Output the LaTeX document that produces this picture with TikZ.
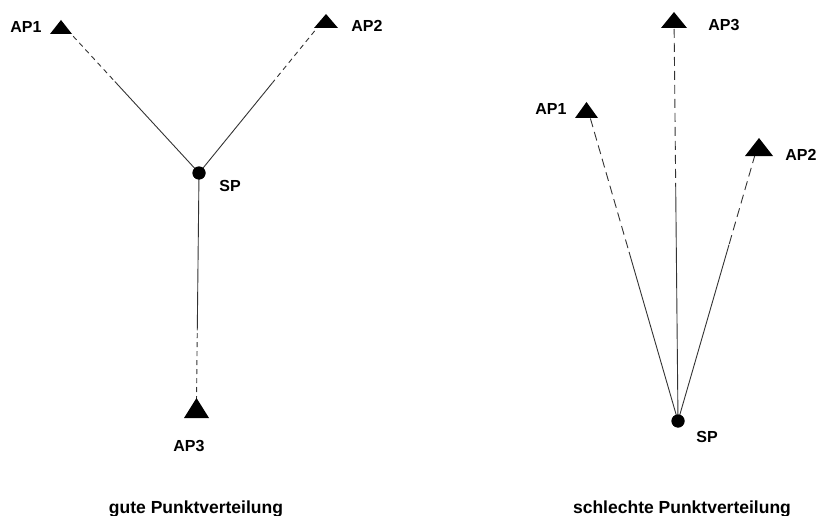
\documentclass[tikz,border=0pt]{standalone}
\usepackage{fontspec}
\setmainfont{Liberation Sans}
\usetikzlibrary{calc}
\begin{document}
\begin{tikzpicture}[x=1pt,y=-1pt,
  lbl/.style={font=\fontsize{16}{18}\selectfont\bfseries, inner sep=0pt},
  captiontext/.style={font=\fontsize{17.5}{19}\selectfont\bfseries, inner sep=0pt, anchor=base},
  solidline/.style={line width=0.9pt, draw=black!80},
  dashline/.style={line width=0.9pt, draw=black!80, dash pattern=on 5pt off 4pt},
  longdash/.style={line width=0.9pt, draw=black!80, dash pattern=on 9pt off 5pt},
  spdot/.style={circle, fill=black, inner sep=0pt, minimum size=13pt},
  tri/.style={fill=black}]
\useasboundingbox (0,0) rectangle (827,516);
% ---------- left: gute Punktverteilung ----------
\node[spdot] (spL) at (199,173) {};
\coordinate (ap1L) at (61,23);
\coordinate (ap2L) at (326,17);
\coordinate (ap3L) at (196.5,401);
\coordinate (m1L) at ($(ap1L)!0.39!(spL)$);
\coordinate (m2L) at ($(ap2L)!0.42!(spL)$);
\coordinate (m3L) at ($(ap3L)!0.31!(spL)$);
\draw[dashline] (ap1L) -- (m1L);
\draw[solidline] (m1L) -- (spL.center);
\draw[dashline] (ap2L) -- (m2L);
\draw[solidline] (m2L) -- (spL.center);
\draw[dashline] (ap3L) -- (m3L);
\draw[solidline] (m3L) -- (spL.center);
\fill[tri] (50,34) -- (61,20) -- (72,34) -- cycle;
\fill[tri] (314,28) -- (326,14) -- (338,28) -- cycle;
\fill[tri] (184,418) -- (196.5,398) -- (209,418) -- cycle;
\node[spdot] at (spL) {};
\node[lbl] (t1L) at (26,27) {AP1};
\node[lbl] (t2L) at (367,26) {AP2};
\node[lbl] (tsL) at (230,186) {SP};
\node[lbl] (t3L) at (189,446) {AP3};
\node[captiontext] (capL) at (196,513) {gute Punktverteilung};
% ---------- right: schlechte Punktverteilung ----------
\node[spdot] (spR) at (678,421) {};
\coordinate (ap1R) at (586.5,105);
\coordinate (ap3R) at (674,15);
\coordinate (ap2R) at (759,141);
\coordinate (m1R) at ($(ap1R)!0.465!(spR)$);
\coordinate (m3R) at ($(ap3R)!0.436!(spR)$);
\coordinate (m2R) at ($(ap2R)!0.37!(spR)$);
\draw[longdash] (ap1R) -- (m1R);
\draw[solidline] (m1R) -- (spR.center);
\draw[longdash] (ap3R) -- (m3R);
\draw[solidline] (m3R) -- (spR.center);
\draw[longdash] (ap2R) -- (m2R);
\draw[solidline] (m2R) -- (spR.center);
\fill[tri] (575,118) -- (586.5,102) -- (598,118) -- cycle;
\fill[tri] (661,28) -- (674,12) -- (687,28) -- cycle;
\fill[tri] (745,156) -- (759,138) -- (773,156) -- cycle;
\node[spdot] at (spR) {};
\node[lbl] (t1R) at (551,109) {AP1};
\node[lbl] (t3R) at (724,25) {AP3};
\node[lbl] (t2R) at (801,155) {AP2};
\node[lbl] (tsR) at (707,437) {SP};
\node[captiontext] (capR) at (682,513) {schlechte Punktverteilung};
\end{tikzpicture}
\end{document}
